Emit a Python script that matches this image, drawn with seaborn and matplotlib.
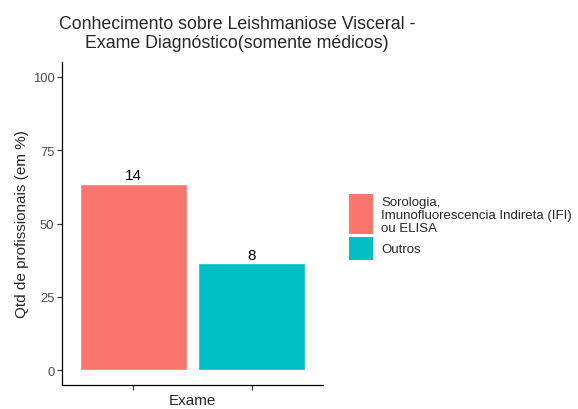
import matplotlib
matplotlib.use("Agg")
import matplotlib.pyplot as plt
import seaborn as sns
import pandas as pd
from matplotlib.patches import Rectangle

# dados
categorias = ["Sorologia,\nImunofluorescencia Indireta (IFI)\nou ELISA", "Outros"]
contagens = [14, 8]
percentuais = [63.6, 36.4]
cores = ["#F8766D", "#00BFC4"]

df = pd.DataFrame({"Exame": categorias, "pct": percentuais, "n": contagens})

sns.set_style("white")
plt.rcParams["font.family"] = ["Liberation Sans", "DejaVu Sans"]

fig = plt.figure(figsize=(5.78, 4.10), dpi=100)
ax = fig.add_axes([62 / 578, 1 - 386 / 410, (323 - 62) / 578, (386 - 63) / 410])

sns.barplot(data=df, x="Exame", y="pct", hue="Exame", palette=cores,
            width=0.9, legend=False, ax=ax, saturation=1)

# rótulos com a contagem
for i, row in df.iterrows():
    ax.text(i, row["pct"] + 0.5, str(row["n"]), ha="center", va="bottom",
            fontsize=11, color="black")

ax.set_xlim(-0.6, 1.6)
ax.set_ylim(-5, 105)
ax.set_yticks([0, 25, 50, 75, 100])
ax.set_xticks([0, 1])
ax.set_xticklabels(["", ""])
ax.tick_params(axis="both", length=3.5, width=0.8, color="#333333",
               labelsize=9.4, labelcolor="#4D4D4D", pad=2, direction="out")
ax.tick_params(axis="x", bottom=True)
ax.tick_params(axis="y", left=True)
for s in ["top", "right"]:
    ax.spines[s].set_visible(False)
for s in ["left", "bottom"]:
    ax.spines[s].set_color("black")
    ax.spines[s].set_linewidth(0.9)

ax.set_xlabel("")
ax.set_ylabel("")
fig.text(192 / 578, 1 - 401 / 410, "Exame", ha="center", va="center", fontsize=11)
fig.text(22 / 578, 1 - 224 / 410, "Qtd de profissionais (em %)", ha="center",
         va="center", rotation=90, fontsize=11)

fig.text(237 / 578, 1 - 34 / 410,
         "Conhecimento sobre Leishmaniose Visceral -\nExame Diagnóstico(somente médicos)",
         ha="center", va="center", multialignment="center", fontsize=12.8,
         linespacing=1.1)

# legenda manual
chaves = [(195, 235), (238, 261)]
for (topo, base), cor, nome in zip(chaves, cores, categorias):
    fig.patches.append(Rectangle((349 / 578, 1 - base / 410), 24 / 578,
                                 (base - topo) / 410, transform=fig.transFigure,
                                 facecolor=cor, edgecolor="none"))
    fig.text(381 / 578, 1 - ((topo + base) / 2 + 1) / 410, nome, ha="left",
             va="center", fontsize=9.5, linespacing=1.15)

fig.savefig("out.png", dpi=100)
